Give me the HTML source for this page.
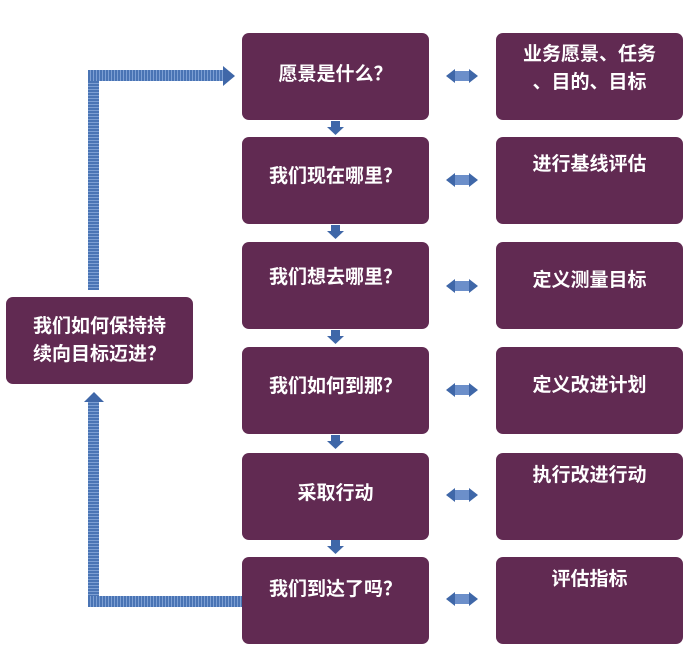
<!DOCTYPE html>
<html><head><meta charset="utf-8"><style>
body{margin:0;width:699px;height:666px;background:#fff;position:relative;overflow:hidden;font-family:"Liberation Sans","Noto Sans CJK SC",sans-serif}
.b{position:absolute;background:#612a52;border-radius:7px;color:#fff;font-size:19px;text-align:center;box-sizing:border-box;font-weight:bold}
.t{position:absolute;left:0;right:0;line-height:28px}
.h{position:absolute;background:repeating-linear-gradient(90deg,#4a74b4 0 2px,#7d9fd3 2px 3px)}
.v{position:absolute;background:repeating-linear-gradient(0deg,#4a74b4 0 2px,#7d9fd3 2px 3px)}
</style></head><body>
<div class="b" style="left:6px;top:297px;width:187px;height:87px"><div class="t" style="top:16px">我们如何保持持<br>续向目标迈进？</div></div>

<div class="b" style="left:242px;top:33px;width:187px;height:87px"><div class="t" style="top:28px">愿景是什么？</div></div>
<div class="b" style="left:242px;top:137px;width:187px;height:87px"><div class="t" style="top:26px">我们现在哪里？</div></div>
<div class="b" style="left:242px;top:242px;width:187px;height:87px"><div class="t" style="top:22px">我们想去哪里？</div></div>
<div class="b" style="left:242px;top:347px;width:187px;height:87px"><div class="t" style="top:26px">我们如何到那？</div></div>
<div class="b" style="left:242px;top:453px;width:187px;height:87px"><div class="t" style="top:27px">采取行动</div></div>
<div class="b" style="left:242px;top:557px;width:187px;height:87px"><div class="t" style="top:19px">我们到达了吗？</div></div>

<div class="b" style="left:496px;top:33px;width:187px;height:87px"><div class="t" style="top:8px">业务愿景、任务<br>、目的、目标</div></div>
<div class="b" style="left:496px;top:137px;width:187px;height:87px"><div class="t" style="top:14px">进行基线评估</div></div>
<div class="b" style="left:496px;top:242px;width:187px;height:87px"><div class="t" style="top:25px">定义测量目标</div></div>
<div class="b" style="left:496px;top:347px;width:187px;height:87px"><div class="t" style="top:25px">定义改进计划</div></div>
<div class="b" style="left:496px;top:453px;width:187px;height:87px"><div class="t" style="top:9px">执行改进行动</div></div>
<div class="b" style="left:496px;top:557px;width:187px;height:87px"><div class="t" style="top:9px">评估指标</div></div>

<!-- left connectors -->
<div class="v" style="left:88px;top:70px;width:11px;height:220px"></div>
<div class="h" style="left:88px;top:70px;width:137px;height:11px"></div>
<svg style="position:absolute;left:223px;top:66px" width="12" height="20"><polygon points="0,0 12,10 0,20" fill="#3f67a8"/></svg>
<div class="v" style="left:88px;top:400px;width:11px;height:206px"></div>
<div class="h" style="left:88px;top:596px;width:154px;height:11px"></div>
<svg style="position:absolute;left:84px;top:392px" width="20" height="10"><polygon points="0,10 10,0 20,10" fill="#3f67a8"/></svg>

<svg style="position:absolute;left:0;top:0" width="699" height="666">
<g fill="#3f67a8">
<g id="d"><rect x="331" y="121" width="9" height="7"/><polygon points="327,127 344,127 335.5,135"/></g>
<use href="#d" y="104"/><use href="#d" y="209"/><use href="#d" y="314"/><use href="#d" y="419"/>
<g id="a"><rect x="454" y="71" width="16" height="10" fill="#6c8fca"/><polygon points="446,76 455,69 455,83"/><polygon points="478,76 469,69 469,83"/></g>
<use href="#a" y="104"/><use href="#a" y="210"/><use href="#a" y="314"/><use href="#a" y="419"/><use href="#a" y="523"/>
</g></svg>
</body></html>
